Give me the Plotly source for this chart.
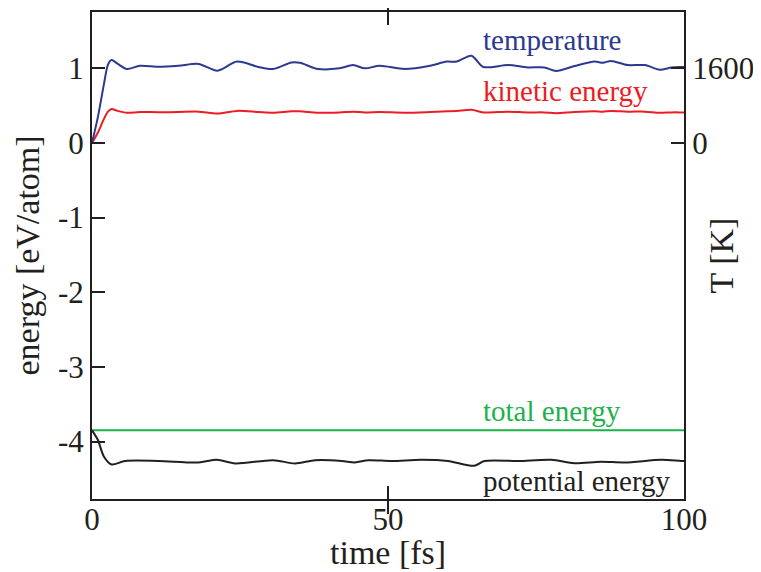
import plotly.graph_objects as go

# time axis for temperature / kinetic energy (fs)
t_kin = [0, 1, 2, 2.7, 3.3, 4.3, 5.9, 8.1, 11.2, 14.6, 18, 21.2, 24.5, 28.1, 30.6,
         33.7, 35.1, 38.2, 41.8, 44.1, 46.1, 48.6, 52.8, 57.1, 59.9, 61.6, 64.1,
         66.1, 70.3, 73.6, 76.4, 78.4, 81.5, 84.9, 86.3, 87.7, 90.5, 93.4, 95.9,
         97.9, 99.6, 100]
# temperature [K]
temperature = [0, 560, 1250, 1680, 1780, 1700, 1585, 1655, 1635, 1655, 1695, 1550,
               1745, 1630, 1585, 1725, 1720, 1585, 1600, 1670, 1600, 1655, 1585,
               1655, 1745, 1745, 1870, 1630, 1670, 1620, 1620, 1545, 1650, 1745,
               1720, 1760, 1670, 1670, 1570, 1620, 1630, 1630]
# kinetic energy [eV/atom]
kinetic = [0, 0.14, 0.32, 0.42, 0.455, 0.43, 0.405, 0.415, 0.412, 0.415, 0.42,
           0.395, 0.43, 0.415, 0.405, 0.425, 0.425, 0.405, 0.41, 0.42, 0.41, 0.415,
           0.405, 0.415, 0.425, 0.43, 0.445, 0.41, 0.42, 0.41, 0.41, 0.40, 0.415,
           0.425, 0.42, 0.43, 0.42, 0.42, 0.405, 0.41, 0.41, 0.41]

# potential energy [eV/atom]
t_pot = [0, 1, 2, 3.3, 5.6, 11.2, 18, 21.1, 24.2, 30.6, 34.3, 37.7, 42.2, 44.4,
         46.7, 50.6, 55.6, 60.1, 64.6, 66.3, 72, 77.6, 81.5, 86, 90, 96.2, 99.5, 100]
potential = [-3.85, -3.98, -4.2, -4.307, -4.26, -4.26, -4.28, -4.245, -4.293, -4.25,
             -4.293, -4.25, -4.26, -4.28, -4.25, -4.26, -4.245, -4.26, -4.325, -4.26,
             -4.26, -4.245, -4.29, -4.27, -4.28, -4.245, -4.26, -4.26]

# total energy [eV/atom]
t_tot = [0, 100]
total = [-3.85, -3.85]

# tick labels
x_ticks = [0, 50, 100]
y_ticks = [-4, -3, -2, -1, 0, 1]
y_ticktext = ["-4", "-3", "-2", "-1", "0", "1"]
t_ticks = [0, 1600]

labels = ["temperature", "kinetic energy", "total energy", "potential energy"]
label_y = [1.38, 0.70, -3.59, -4.53]
label_x = 65.7

BLUE = "#2b3990"
RED = "#ed1c24"
GREEN = "#1db14b"
BLACK = "#231f20"
colors = [BLUE, RED, GREEN, BLACK]

E_RANGE = [-4.77, 1.755]
K_PER_EV = 1600
FAM = "Liberation Serif"

fig = go.Figure()
fig.add_trace(go.Scatter(x=t_tot, y=total, mode="lines",
                         line=dict(color=GREEN, width=2)))
fig.add_trace(go.Scatter(x=t_pot, y=potential, mode="lines", line_shape="spline",
                         line=dict(color=BLACK, width=2, smoothing=0.8)))
fig.add_trace(go.Scatter(x=t_kin, y=kinetic, mode="lines", line_shape="spline",
                         line=dict(color=RED, width=2, smoothing=0.8)))
fig.add_trace(go.Scatter(x=t_kin, y=temperature, mode="lines", line_shape="spline",
                         yaxis="y2", line=dict(color=BLUE, width=2, smoothing=0.8)))

for txt, yy, c in zip(labels, label_y, colors):
    fig.add_annotation(x=label_x, y=yy, xref="x", yref="y", text=txt,
                       showarrow=False, xanchor="left", yanchor="middle",
                       font=dict(family=FAM, size=29, color=c))

font = dict(family=FAM, size=31, color=BLACK)
tfont = dict(family=FAM, size=34, color=BLACK)

# axis titles
fig.add_annotation(x=0.5, y=0, xref="paper", yref="paper", yshift=-53,
                   text="time [fs]", showarrow=False, xanchor="center",
                   yanchor="middle", font=tfont)
fig.add_annotation(x=0, y=0.5, xref="paper", yref="paper", xshift=-65,
                   text="energy [eV/atom]", showarrow=False, textangle=-90,
                   xanchor="center", yanchor="middle", font=tfont)
fig.add_annotation(x=1, y=0.5, xref="paper", yref="paper", xshift=37,
                   text="T [K]", showarrow=False, textangle=-90,
                   xanchor="center", yanchor="middle", font=tfont)

common = dict(ticks="inside", ticklen=13, tickwidth=2, tickcolor=BLACK,
              showline=True, linecolor=BLACK, linewidth=2, showgrid=False,
              zeroline=False, tickfont=font, automargin=False)
fig.update_layout(
    width=753, height=564,
    margin=dict(l=84, r=77, t=4, b=73),
    paper_bgcolor="white", plot_bgcolor="white",
    showlegend=False,
    font=font,
    xaxis=dict(range=[0, 100], tickvals=x_ticks, mirror="allticks",
               ticklabelstandoff=-8, **common),
    yaxis=dict(range=E_RANGE, tickvals=y_ticks, ticktext=y_ticktext, mirror=False,
               **common),
    yaxis2=dict(range=[E_RANGE[0] * K_PER_EV, E_RANGE[1] * K_PER_EV], tickvals=t_ticks,
                overlaying="y", side="right", **common),
)

fig.write_html("out.html")
